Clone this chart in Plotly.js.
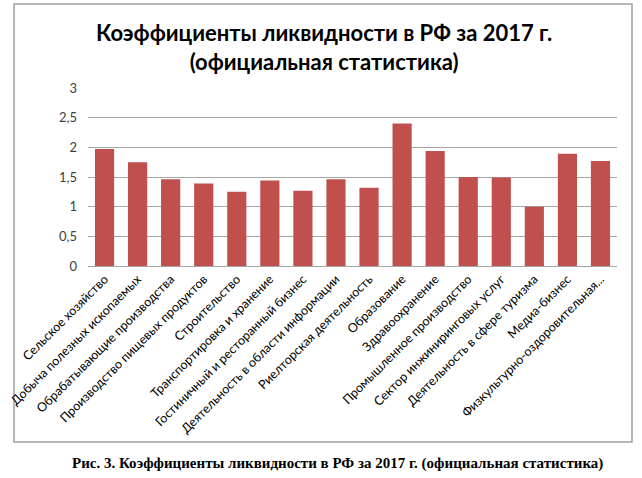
<!DOCTYPE html>
<html>
<head>
<meta charset="utf-8">
<script src="https://cdn.plot.ly/plotly-3.0.1.min.js"></script>
<style>
  body { margin: 0; background: #fff; }
  #chart { width: 642px; height: 478px; }
</style>
</head>
<body>
<div id="chart"></div>
<script>
const categories = [
  "Сельское хозяйство",
  "Добыча полезных ископаемых",
  "Обрабатывающие производства",
  "Производство пищевых продуктов",
  "Строительство",
  "Транспортировка и хранение",
  "Гостиничный и ресторанный бизнес",
  "Деятельность в области информации",
  "Риелторская деятельность",
  "Образование",
  "Здравоохранение",
  "Промышленное производство",
  "Сектор инжиниринговых услуг",
  "Деятельность в сфере туризма",
  "Медиа-бизнес",
  "Физкультурно-оздоровительная..."
];
const liquidity = [1.97, 1.75, 1.46, 1.39, 1.25, 1.44, 1.27, 1.46, 1.32, 2.40, 1.94, 1.50, 1.49, 1.00, 1.89, 1.77];
const yTicks = [0, 0.5, 1, 1.5, 2, 2.5, 3];

// plot area in pixels
const W = 642, H = 478;
const L = 88, R = 617, T = 88, B = 266;
const px = x => (x - L) / (R - L);
const py = y => (B - y) / (B - T);

const trace = {
  x: categories,
  y: liquidity,
  type: 'bar',
  marker: { color: '#c0504d' },
  hoverinfo: 'x+y'
};

const layout = {
  width: W,
  height: H,
  margin: { l: L, r: W - R, t: T, b: H - B },
  paper_bgcolor: '#ffffff',
  plot_bgcolor: '#ffffff',
  separators: ', ',
  bargap: 0.42,
  showlegend: false,
  font: { family: 'Lato, sans-serif', color: '#404040' },
  xaxis: {
    type: 'category',
    tickangle: -45,
    tickfont: { size: 12.5, color: '#000000' },
    showgrid: false,
    showline: true,
    linecolor: '#a6a6a6',
    ticks: '',
    automargin: false,
    fixedrange: true
  },
  yaxis: {
    range: [0, 3],
    tickvals: yTicks,
    tickformat: ',.1~f',
    tickfont: { size: 13, color: '#404040' },
    showgrid: true,
    gridcolor: '#a6a6a6',
    zeroline: false,
    showline: false,
    ticks: '',
    ticklabelstandoff: 10,
    automargin: false,
    fixedrange: true
  },
  shapes: [{
    type: 'rect', xref: 'paper', yref: 'paper',
    x0: px(14), x1: px(632), y0: py(442), y1: py(4),
    line: { color: '#a0a0a0', width: 1.5 },
    fillcolor: 'rgba(0,0,0,0)',
    layer: 'below'
  }],
  annotations: [{
    text: '<b>Коэффициенты ликвидности в РФ за 2017 г.<br>(официальная статистика)</b>',
    xref: 'paper', yref: 'paper',
    x: px(324), y: py(47),
    xanchor: 'center', yanchor: 'middle',
    showarrow: false,
    font: { family: 'Lato, sans-serif', size: 22, color: '#000000' }
  }, {
    text: '<b>Рис. 3. Коэффициенты ликвидности в РФ за 2017 г. (официальная статистика)</b>',
    xref: 'paper', yref: 'paper',
    x: px(337), y: py(464),
    xanchor: 'center', yanchor: 'middle',
    showarrow: false,
    font: { family: '"Liberation Serif", "DejaVu Serif", serif', size: 15, color: '#000000' }
  }]
};

Plotly.newPlot('chart', [trace], layout, { displayModeBar: false, staticPlot: true });
</script>
</body>
</html>
